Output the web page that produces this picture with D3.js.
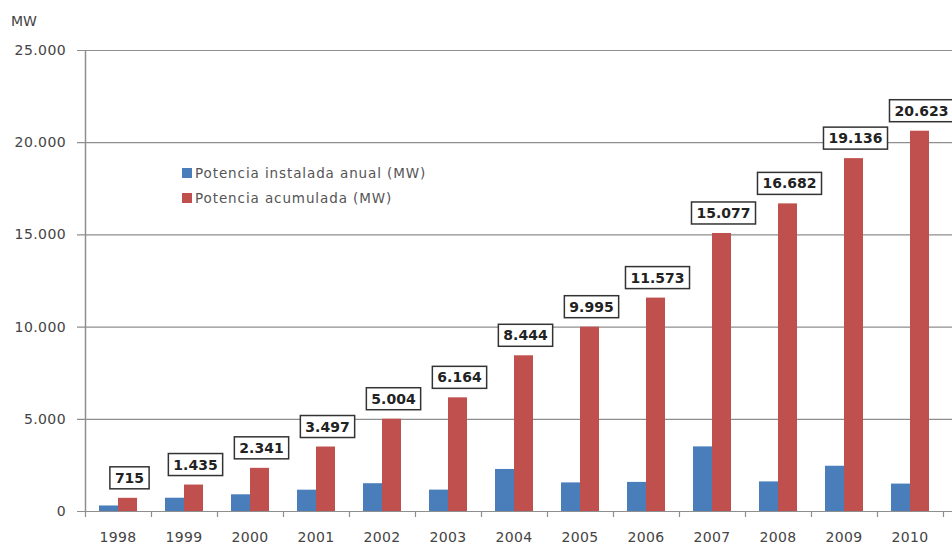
<!DOCTYPE html>
<html>
<head>
<meta charset="utf-8">
<script src="https://cdn.jsdelivr.net/npm/d3@7"></script>
<style>
  html, body { margin: 0; padding: 0; background: #fff; }
  svg { display: block; }
</style>
</head>
<body>
<svg id="chart" width="952" height="547"></svg>
<script>
const years = ["1998","1999","2000","2001","2002","2003","2004","2005","2006","2007","2008","2009","2010"];
const annual = [300, 720, 906, 1156, 1507, 1160, 2280, 1551, 1578, 3504, 1605, 2454, 1487];
const cumulative = [715, 1435, 2341, 3497, 5004, 6164, 8444, 9995, 11573, 15077, 16682, 19136, 20623];
const seriesNames = ["Potencia instalada anual (MW)", "Potencia acumulada (MW)"];
const seriesColors = ["#4A7EBB", "#C0504D"];
const yTicks = [0, 5000, 10000, 15000, 20000, 25000];
const yTickLabels = ["0", "5.000", "10.000", "15.000", "20.000", "25.000"];
const yUnit = "MW";

(function () {
const fmt = v => d3.format(",")(v).replace(/,/g, ".");

const svg = d3.select("#chart");
const W = 952;
const pLeft = 85, pRight = 943, pTop = 50, pBottom = 511;

const x = d3.scaleBand().domain(years).range([pLeft, pRight]).paddingInner(0).paddingOuter(0);
const groupW = 38;
const xs = d3.scaleBand().domain([0, 1]).range([0, groupW]).padding(0);
const y = d3.scaleLinear().domain([0, 25000]).range([pBottom, pTop]);

const font = "'DejaVu Sans', Verdana, sans-serif";

// gridlines
svg.append("g").selectAll("line").data(yTicks).join("line")
  .attr("x1", pLeft - 8).attr("x2", W)
  .attr("y1", d => y(d) + 0.5).attr("y2", d => y(d) + 0.5)
  .attr("stroke", "#8e8e8e").attr("stroke-width", 1.2);

// y labels
svg.append("g").selectAll("text").data(yTicks).join("text")
  .attr("x", 66).attr("y", d => y(d)).attr("dy", "0.36em")
  .attr("text-anchor", "end")
  .attr("font-family", font).attr("font-size", 14).attr("fill", "#444")
  .attr("letter-spacing", 0.4)
  .text((d, i) => yTickLabels[i]);

svg.append("text").attr("x", 11).attr("y", 26)
  .attr("font-family", font).attr("font-size", 14).attr("fill", "#444")
  .text(yUnit);

// y axis line
svg.append("line").attr("x1", pLeft + 0.5).attr("x2", pLeft + 0.5)
  .attr("y1", pTop).attr("y2", pBottom + 1)
  .attr("stroke", "#8e8e8e").attr("stroke-width", 1.5);

// x ticks
const bounds = years.map(d => x(d)).concat([pRight]);
svg.append("g").selectAll("line").data(bounds).join("line")
  .attr("x1", d => d + 0.5).attr("x2", d => d + 0.5)
  .attr("y1", pBottom).attr("y2", pBottom + 6)
  .attr("stroke", "#8e8e8e").attr("stroke-width", 1.2);

// bars
const data = years.map((yr, i) => ({ yr, vals: [annual[i], cumulative[i]] }));
const g = svg.append("g").selectAll("g").data(data).join("g")
  .attr("transform", d => `translate(${x(d.yr) + (x.bandwidth() - groupW) / 2},0)`);
g.selectAll("rect").data(d => d.vals.map((v, k) => ({ v, k }))).join("rect")
  .attr("x", d => xs(d.k)).attr("width", xs.bandwidth())
  .attr("y", d => y(d.v)).attr("height", d => pBottom - y(d.v))
  .attr("fill", d => seriesColors[d.k]);

// year labels
svg.append("g").selectAll("text").data(years).join("text")
  .attr("x", d => x(d) + x.bandwidth() / 2).attr("y", 542)
  .attr("text-anchor", "middle")
  .attr("font-family", font).attr("font-size", 14).attr("fill", "#444")
  .attr("letter-spacing", 0.4)
  .text(d => d);

// value label boxes on cumulative bars
const lab = svg.append("g").selectAll("g").data(data).join("g");
lab.each(function(d) {
  const gg = d3.select(this);
  const cx = x(d.yr) + (x.bandwidth() - groupW) / 2 + xs(1) + xs.bandwidth() / 2 + 2;
  const boxBottom = y(d.vals[1]) - 9;
  const rect = gg.append("rect");
  const t = gg.append("text")
    .attr("x", cx).attr("y", boxBottom - 6)
    .attr("text-anchor", "middle")
    .attr("font-family", font).attr("font-weight", "bold").attr("font-size", 14)
    .attr("fill", "#222")
    .text(fmt(d.vals[1]));
  const tw = t.node().getComputedTextLength();
  rect.attr("x", cx - tw / 2 - 5).attr("width", tw + 10)
    .attr("y", boxBottom - 22).attr("height", 22)
    .attr("fill", "#fff").attr("stroke", "#333").attr("stroke-width", 1.5);
});

// legend
const leg = svg.append("g").selectAll("g").data(seriesNames).join("g")
  .attr("transform", (d, i) => `translate(182,${173 + i * 25})`);
leg.append("rect").attr("x", 0).attr("y", -5).attr("width", 10).attr("height", 10)
  .attr("fill", (d, i) => seriesColors[i]);
leg.append("text").attr("x", 13).attr("y", 0).attr("dy", "0.36em")
  .attr("font-family", font).attr("font-size", 13.5).attr("fill", "#555")
  .attr("letter-spacing", 0.9)
  .text(d => d);
})();
</script>
</body>
</html>
